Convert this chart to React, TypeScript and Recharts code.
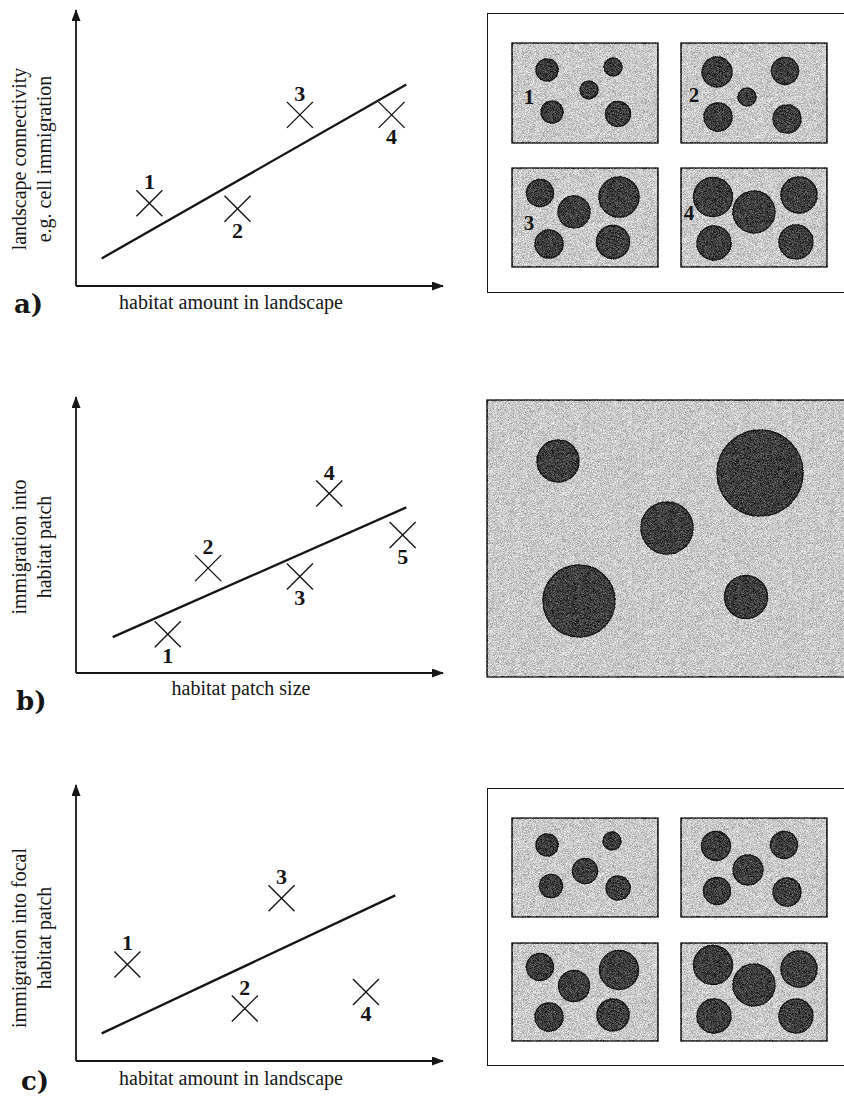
import React from 'react';
import {
  ScatterChart,
  Scatter,
  XAxis,
  YAxis,
  ZAxis,
  ReferenceArea
} from 'recharts';

const SERIF = '"Liberation Serif", "Times New Roman", serif';
const HEAVY = '"DejaVu Serif", "Liberation Serif", serif';
const INK = '#161616';

// --- left plots: trend line + numbered landscapes ---
const trendA = [{ x: 7, y: 10 }, { x: 90, y: 73 }];
const pointsA = [
  { x: 20, y: 30, label: '1' },
  { x: 44, y: 28, label: '2' },
  { x: 61, y: 62, label: '3' },
  { x: 86, y: 62, label: '4' }
];
const sidesA = ['above', 'below', 'above', 'below'];

const trendB = [{ x: 10, y: 13 }, { x: 90, y: 60 }];
const pointsB = [
  { x: 25, y: 14, label: '1' },
  { x: 36, y: 38, label: '2' },
  { x: 61, y: 35, label: '3' },
  { x: 69, y: 65, label: '4' },
  { x: 89, y: 50, label: '5' }
];
const sidesB = ['below', 'above', 'below', 'above', 'below'];

const trendC = [{ x: 7, y: 10 }, { x: 87, y: 60 }];
const pointsC = [
  { x: 14, y: 35, label: '1' },
  { x: 46, y: 19, label: '2' },
  { x: 56, y: 59, label: '3' },
  { x: 79, y: 25, label: '4' }
];
const sidesC = ['above', 'above', 'above', 'below'];

// --- right panels: habitat patches (x, y, radius) inside each landscape ---
const landscapeA1 = [
  { x: 35, y: 27, r: 11 }, { x: 101, y: 24, r: 9 }, { x: 77, y: 47, r: 9 },
  { x: 40, y: 69, r: 11 }, { x: 106, y: 71, r: 12.5 }
];
const landscapeA2 = [
  { x: 36, y: 29, r: 15 }, { x: 104, y: 28, r: 13.5 }, { x: 66, y: 54, r: 9 },
  { x: 37, y: 74, r: 14 }, { x: 106, y: 76, r: 14 }
];
const landscapeA3 = [
  { x: 28, y: 25, r: 13.5 }, { x: 62, y: 44, r: 16 }, { x: 107, y: 29, r: 20 },
  { x: 37, y: 76, r: 14 }, { x: 101, y: 74, r: 16.5 }
];
const landscapeA4 = [
  { x: 32, y: 29, r: 19.5 }, { x: 73, y: 44, r: 21 }, { x: 118, y: 27, r: 18 },
  { x: 33, y: 75, r: 17 }, { x: 115, y: 74, r: 17 }
];
const landscapeB = [
  { x: 71, y: 61, r: 21 }, { x: 273, y: 73, r: 43 }, { x: 180, y: 128, r: 26 },
  { x: 92, y: 201, r: 36 }, { x: 259, y: 197, r: 21.5 }
];
const landscapeC1 = [
  { x: 35, y: 27, r: 11 }, { x: 100, y: 23, r: 9 }, { x: 73, y: 53, r: 12.5 },
  { x: 39, y: 68, r: 11.5 }, { x: 106, y: 70, r: 12 }
];
const landscapeC2 = [
  { x: 35, y: 28, r: 14.5 }, { x: 103, y: 27, r: 13.5 }, { x: 67, y: 52, r: 15 },
  { x: 36, y: 73, r: 13.5 }, { x: 106, y: 74, r: 14 }
];
const landscapeC3 = [
  { x: 28, y: 24, r: 13.5 }, { x: 62, y: 43, r: 15.5 }, { x: 107, y: 27, r: 19.5 },
  { x: 37, y: 74, r: 14 }, { x: 101, y: 72, r: 16 }
];
const landscapeC4 = [
  { x: 32, y: 22, r: 19.5 }, { x: 73, y: 42, r: 21 }, { x: 118, y: 26, r: 18 },
  { x: 33, y: 73, r: 17 }, { x: 115, y: 73, r: 17 }
];

const CrossMark = (props: any) => {
  const { cx, cy, payload } = props;
  const arm = 13;
  const dy = payload.side === 'above' ? -14 : 29;
  return (
    <g>
      <line x1={cx - arm} y1={cy - arm} x2={cx + arm} y2={cy + arm} stroke={INK} strokeWidth={1.4} />
      <line x1={cx - arm} y1={cy + arm} x2={cx + arm} y2={cy - arm} stroke={INK} strokeWidth={1.4} />
      <text x={cx} y={cy + dy} textAnchor="middle" fontFamily={SERIF} fontWeight="bold" fontSize={22} fill={INK}>
        {payload.label}
      </text>
    </g>
  );
};

const NoDot = () => <g />;

const RelationPlot = ({ id, top, trend, points, sides }: any) => {
  const marks = points.map((p: any, i: number) => ({ ...p, side: sides[i] }));
  return (
    <div style={{ position: 'absolute', left: 0, top }}>
      <ScatterChart width={460} height={320} margin={{ top: 10, right: 17, bottom: 33, left: 75 }}>
        <defs>
          <marker id={`arrow-${id}`} viewBox="0 0 12 9" refX={11} refY={4.5} markerWidth={12} markerHeight={9}
            markerUnits="userSpaceOnUse" orient="auto-start-reverse">
            <path d="M0,0 L12,4.5 L0,9 z" fill={INK} />
          </marker>
        </defs>
        <XAxis type="number" dataKey="x" domain={[0, 100]} height={1} tick={false} tickLine={false}
          axisLine={{ stroke: INK, strokeWidth: 1.8, markerEnd: `url(#arrow-${id})` }} />
        <YAxis type="number" dataKey="y" domain={[0, 100]} width={1} tick={false} tickLine={false}
          axisLine={{ stroke: INK, strokeWidth: 1.8, markerStart: `url(#arrow-${id})` }} />
        <Scatter data={trend} line={{ stroke: INK, strokeWidth: 2.3 }} shape={NoDot} isAnimationActive={false} />
        <Scatter data={marks} shape={CrossMark} isAnimationActive={false} />
      </ScatterChart>
    </div>
  );
};

const Landscape = ({ left, top, w, h, patches }: any) => {
  const data = patches.map((p: any) => ({ ...p, area: Math.PI * p.r * p.r }));
  return (
    <div style={{ position: 'absolute', left: left - 2, top: top - 2, filter: 'url(#grain)' }}>
      <ScatterChart width={w + 4} height={h + 4} margin={{ top: 2, right: 2, bottom: 2, left: 2 }}>
        <XAxis type="number" dataKey="x" domain={[0, w]} hide />
        <YAxis type="number" dataKey="y" domain={[0, h]} reversed hide />
        <ZAxis type="number" dataKey="area" domain={[0, 10000]} range={[0, 10000]} />
        <ReferenceArea x1={0} x2={w} y1={0} y2={h} fill="#c9c9c9" fillOpacity={1} stroke={INK} strokeWidth={1.6} />
        <Scatter data={data} shape="circle" fill="#3e3e3e" stroke="#1a1a1a" strokeWidth={1.4} isAnimationActive={false} />
      </ScatterChart>
    </div>
  );
};

const frame = (top: number, height: number): React.CSSProperties => ({
  position: 'absolute', left: 487, top, width: 380, height, border: `1.5px solid ${INK}`, boxSizing: 'border-box'
});

const YTitle = ({ cy, lines }: any) => (
  <g>
    <text transform={`translate(26,${cy}) rotate(-90)`} textAnchor="middle">{lines[0]}</text>
    <text transform={`translate(51,${cy}) rotate(-90)`} textAnchor="middle">{lines[1]}</text>
  </g>
);

export default function App() {
  return (
    <div style={{ position: 'absolute', left: 0, top: 0, width: 844, height: 1101, overflow: 'hidden', background: '#fff' }}>
      <svg width={0} height={0} style={{ position: 'absolute' }}>
        <defs>
          <filter id="grain" x="0" y="0" width="1" height="1" colorInterpolationFilters="sRGB">
            <feTurbulence type="fractalNoise" baseFrequency="1.6" numOctaves={1} seed={7} result="noise" />
            <feColorMatrix in="noise" type="matrix"
              values="1.8 0 0 0 -0.4  1.8 0 0 0 -0.4  1.8 0 0 0 -0.4  0 0 0 0 1" result="gray" />
            <feBlend in="gray" in2="SourceGraphic" mode="overlay" result="mixed" />
            <feComposite in="mixed" in2="SourceGraphic" operator="in" />
          </filter>
        </defs>
      </svg>

      <RelationPlot id="a" top={0} trend={trendA} points={pointsA} sides={sidesA} />
      <RelationPlot id="b" top={387} trend={trendB} points={pointsB} sides={sidesB} />
      <RelationPlot id="c" top={775} trend={trendC} points={pointsC} sides={sidesC} />

      <div style={frame(13, 280)} />
      <Landscape left={512} top={43} w={146} h={100} patches={landscapeA1} />
      <Landscape left={681} top={43} w={146} h={100} patches={landscapeA2} />
      <Landscape left={512} top={168} w={146} h={99} patches={landscapeA3} />
      <Landscape left={681} top={168} w={146} h={99} patches={landscapeA4} />

      <Landscape left={487} top={400} w={370} h={277} patches={landscapeB} />

      <div style={frame(788, 278)} />
      <Landscape left={512} top={818} w={146} h={99} patches={landscapeC1} />
      <Landscape left={681} top={818} w={146} h={99} patches={landscapeC2} />
      <Landscape left={512} top={943} w={146} h={98} patches={landscapeC3} />
      <Landscape left={681} top={943} w={146} h={98} patches={landscapeC4} />

      <svg width={844} height={1101} style={{ position: 'absolute', left: 0, top: 0, pointerEvents: 'none' }}
        fontFamily={SERIF} fill={INK}>
        <g fontSize={20}>
          <YTitle cy={159} lines={['landscape connectivity', 'e.g. cell immigration']} />
          <YTitle cy={547} lines={['immigration into', 'habitat patch']} />
          <YTitle cy={938} lines={['immigration into focal', 'habitat patch']} />
          <text x={231} y={309} textAnchor="middle">habitat amount in landscape</text>
          <text x={241} y={695} textAnchor="middle">habitat patch size</text>
          <text x={231} y={1085} textAnchor="middle">habitat amount in landscape</text>
        </g>
        <g fontFamily={HEAVY} fontWeight="bold" fontSize={26}>
          <text x={14} y={313}>a)</text>
          <text x={16} y={710}>b)</text>
          <text x={21} y={1090}>c)</text>
        </g>
        <g fontWeight="bold" fontSize={21} textAnchor="middle">
          <text x={529} y={104}>1</text>
          <text x={694} y={102}>2</text>
          <text x={529} y={230}>3</text>
          <text x={689} y={220}>4</text>
        </g>
      </svg>
    </div>
  );
}
